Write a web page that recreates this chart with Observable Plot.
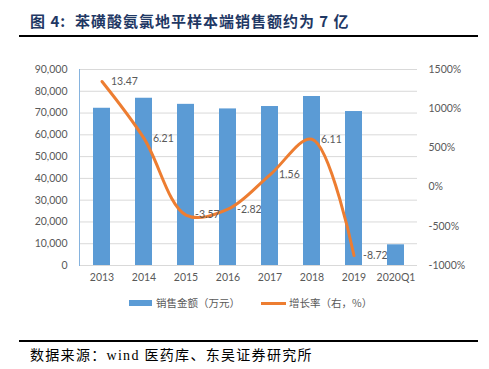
<!DOCTYPE html>
<html><head><meta charset="utf-8">
<script src="https://cdn.jsdelivr.net/npm/d3@7"></script>
<script src="https://cdn.jsdelivr.net/npm/@observablehq/plot@0.6"></script>
<style>
body{margin:0;background:#fff;}
#wrap{position:relative;width:489px;height:369px;overflow:hidden;background:#fff;}
#title{position:absolute;left:30px;top:11px;line-height:20px;font-family:"Noto Sans CJK SC",sans-serif;font-weight:bold;font-size:15px;color:#1F3864;letter-spacing:1px;white-space:nowrap;}
.rule{position:absolute;left:19px;width:459px;height:1.5px;background:#000;}
#chart{position:absolute;left:0;top:40px;}
.lg{position:absolute;font-family:"Noto Sans CJK SC",sans-serif;font-size:10.5px;color:#595959;line-height:14px;white-space:nowrap;}
.sw{position:absolute;}
#caption{position:absolute;left:30px;top:347px;line-height:18px;font-family:"Liberation Serif","Noto Sans CJK SC",serif;font-size:14px;color:#000;letter-spacing:1.3px;white-space:nowrap;}
</style></head><body>
<div id="wrap">
<div id="title">图 4:&nbsp; 苯磺酸氨氯地平样本端销售额约为 7 亿</div>
<div class="rule" style="top:35px"></div>
<div id="chart"></div>
<div class="sw" style="left:129px;top:300px;width:23px;height:6px;background:#5B9BD5"></div>
<div class="lg" style="left:156px;top:296px">销售金额（万元）</div>
<div class="sw" style="left:261px;top:302px;width:25px;height:3px;background:#ED7D31"></div>
<div class="lg" style="left:289px;top:296px">增长率（右，%）</div>
<div class="rule" style="top:340px"></div>
<div id="caption">数据来源：wind 医药库、东吴证券研究所</div>
</div>
<script>
const years = ["2013","2014","2015","2016","2017","2018","2019","2020Q1"];
const sales = [72200, 76800, 74000, 71900, 73000, 77600, 70700, 9500];
const growthYears = ["2013","2014","2015","2016","2017","2018","2019"];
const growth = [13.47, 6.21, -3.57, -2.82, 1.56, 6.11, -8.72];
const leftTicks = [0,10000,20000,30000,40000,50000,60000,70000,80000,90000];
const rightTicks = [-1000,-500,0,500,1000,1500];

// right axis (%) mapped onto the left scale: -1000%..1500% ↔ 0..90000
const toLeft = p => (p + 1000) / 2500 * 90000;
const fromLeft = v => Math.round(v / 90000 * 2500 - 1000);
const growthY = growth.map(g => toLeft(g * 100));

const chart = Plot.plot({
  width: 489,
  height: 250,
  marginTop: 29,
  marginBottom: 25,
  marginLeft: 79,
  marginRight: 72,
  style: {fontFamily: "Lato, 'Noto Sans CJK SC', sans-serif", fontSize: "10.5px", color: "#595959", background: "transparent"},
  x: {domain: years, paddingInner: 0.6, paddingOuter: 0.3, label: null},
  y: {domain: [0, 90000], label: null},
  marks: [
    Plot.gridY(leftTicks, {stroke: "#d9d9d9", strokeOpacity: 1}),
    Plot.frame({anchor: "left", stroke: "#86B3DE"}),
    Plot.barY(sales, {x: years, y: sales, fill: "#5B9BD5"}),
    Plot.line(growth, {x: growthYears, y: growthY, curve: "catmull-rom", stroke: "#ED7D31", strokeWidth: 3}),
    Plot.text(growth, {x: growthYears, y: growthY, text: growth.map(g => g.toFixed(2)), dx: 9, textAnchor: "start", fill: "#595959", fontSize: 10.5}),
    Plot.axisY(leftTicks, {anchor: "left", tickSize: 0, tickPadding: 12, tickFormat: d3.format(","), label: null}),
    Plot.axisY(rightTicks.map(toLeft), {anchor: "right", tickSize: 0, tickPadding: 11, textAnchor: "start", tickFormat: d => fromLeft(d) + "%", label: null}),
    Plot.axisX({tickSize: 0, tickPadding: 8, label: null})
  ]
});
document.getElementById("chart").appendChild(chart);
</script>
</body></html>
